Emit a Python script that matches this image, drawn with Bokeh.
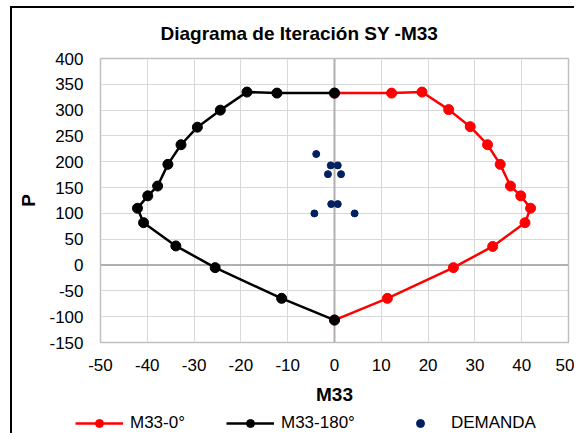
from bokeh.plotting import figure
from bokeh.models import Range1d, SingleIntervalTicker, Span, Legend, LegendItem, NumeralTickFormatter
from bokeh.embed import file_html
from bokeh.resources import INLINE

# ---- data ----
m33_0 = [0, 12.2, 18.7, 24.4, 29.0, 32.7, 35.4, 37.6, 39.8, 41.9, 40.7, 33.8, 25.4, 11.3, 0]
p_0 = [333, 333, 335, 301, 268, 233, 195, 153, 134, 110, 82, 36, -5, -64.5, -106.5]

m33_180 = [0, -12.3, -18.7, -24.4, -29.3, -32.8, -35.6, -37.8, -39.9, -42.1, -40.8, -33.9, -25.5, -11.3, 0]
p_180 = [333, 333, 335, 300, 267, 233, 195, 153, 134, 110, 82, 37, -5, -64.5, -106.5]

dem_m33 = [-3.9, -0.8, 0.7, -1.4, 1.4, -0.7, 0.7, -4.3, 4.3]
dem_p = [215, 193, 193, 176, 176, 118, 118, 100, 100]

title_text = "Diagrama de Iteración SY -M33"
x_label = "M33"
y_label = "P"
series_names = ["M33-0°", "M33-180°", "DEMANDA"]

FONT = "Liberation Sans"
RED, BLACK, NAVY = "#ff0000", "#000000", "#002060"

p = figure(width=574, height=410, output_backend="svg", toolbar_location=None,
           x_range=Range1d(-50, 50), y_range=Range1d(-150, 400),
           min_border_left=100, min_border_right=6, min_border_top=58, min_border_bottom=68)
p.border_fill_color = None
p.background_fill_color = "white"
p.outline_line_color = "#c0c0c0"
p.outline_line_width = 1.5
p.styles = {"box-shadow": "inset 10px 6px 0 0 #ffffff, inset 12px 8px 0 0 #000000"}

p.title.text = title_text
p.title.align = "left"
p.title.offset = 60
p.title.standoff = 29
p.title.text_font = FONT
p.title.text_font_style = "bold"
p.title.text_font_size = "19px"
p.title.text_color = "#000000"

p.xaxis.ticker = SingleIntervalTicker(interval=10, num_minor_ticks=0)
p.yaxis.ticker = SingleIntervalTicker(interval=50, num_minor_ticks=0)
for ax in (p.xaxis[0], p.yaxis[0]):
    ax.formatter = NumeralTickFormatter(format="0")
    ax.axis_line_color = None
    ax.major_tick_line_color = None
    ax.minor_tick_line_color = None
    ax.major_tick_out = 0
    ax.major_tick_in = 0
    ax.major_label_text_font = FONT
    ax.major_label_text_font_size = "17px"
    ax.major_label_text_color = "#000000"
    ax.axis_label_text_font = FONT
    ax.axis_label_text_font_style = "bold"
    ax.axis_label_text_font_size = "19px"
    ax.axis_label_text_color = "#000000"
p.xaxis.major_label_standoff = 16
p.yaxis.major_label_standoff = 17
p.xaxis.axis_label = x_label
p.yaxis.axis_label = y_label
p.xaxis.axis_label_standoff = 10
p.yaxis.axis_label_standoff = 7

p.xgrid.grid_line_color = "#d9d9d9"
p.ygrid.grid_line_color = "#d9d9d9"
p.xgrid.grid_line_width = 1
p.ygrid.grid_line_width = 1

p.add_layout(Span(location=0, dimension="height", line_color="#b0b0b0", line_width=2, level="underlay"))
p.add_layout(Span(location=0, dimension="width", line_color="#b0b0b0", line_width=2, level="underlay"))

p.line(m33_0, p_0, line_color=RED, line_width=2.5)
p.scatter(m33_0, p_0, size=10, fill_color=RED, line_color=RED)
p.line(m33_180, p_180, line_color=BLACK, line_width=2.5)
p.scatter(m33_180, p_180, size=10, fill_color=BLACK, line_color=BLACK)
p.scatter(dem_m33, dem_p, size=7, fill_color=NAVY, line_color=NAVY)

# ---- legend strip: same series, drawn outside its (off-data) view, only the legend shows ----
pl = figure(width=574, height=23, output_backend="svg", toolbar_location=None,
            x_range=Range1d(1000, 1001), y_range=Range1d(1000, 1001),
            x_axis_type=None, y_axis_type=None, min_border=0)
pl.border_fill_color = None
pl.background_fill_color = None
pl.outline_line_color = None
pl.styles = {"box-shadow": "inset 10px 0 0 0 #ffffff, inset 12px 0 0 0 #000000"}
g0 = [pl.line(m33_0, p_0, line_color=RED, line_width=2.5),
      pl.scatter(m33_0, p_0, size=10, fill_color=RED, line_color=RED)]
g1 = [pl.line(m33_180, p_180, line_color=BLACK, line_width=2.5),
      pl.scatter(m33_180, p_180, size=10, fill_color=BLACK, line_color=BLACK)]
g2 = [pl.scatter(dem_m33, dem_p, size=8, fill_color=NAVY, line_color=NAVY)]

legend = Legend(items=[LegendItem(label=series_names[0], renderers=g0),
                       LegendItem(label=series_names[1], renderers=g1),
                       LegendItem(label=series_names[2], renderers=g2)],
                orientation="horizontal", location=(75, 0),
                glyph_width=48, glyph_height=20, label_height=20, label_standoff=7, spacing=41,
                padding=0, margin=0, border_line_color=None, background_fill_color=None,
                label_text_font=FONT, label_text_font_size="17px", label_text_color="#000000")
pl.add_layout(legend, "center")

open("out.html", "w").write(file_html((p, pl), INLINE))
